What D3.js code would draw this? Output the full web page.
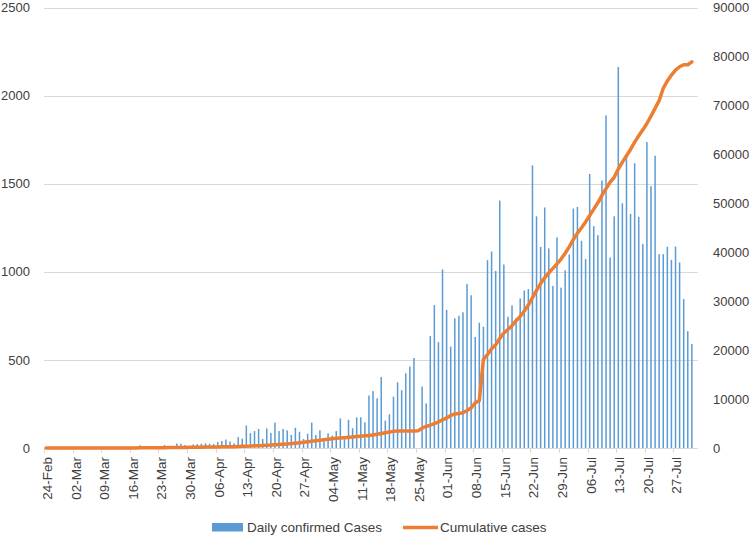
<!DOCTYPE html>
<html>
<head>
  <title>Daily and cumulative cases</title>
  <style>
  body {
    margin: 0;
    background: #fff;
    font-family: "Liberation Sans", Arial, sans-serif;
  }

  .grid line {
    stroke: #d9d9d9;
    stroke-width: 1;
    shape-rendering: crispedges;
  }

  .tick-label {
    font-size: 13px;
    fill: #404040;
  }

  .date-label {
    font-size: 13.5px;
    fill: #404040;
  }

  .bar {
    fill: #5b9bd5;
  }

  .cum {
    fill: none;
    stroke: #ed7d31;
    stroke-width: 3.5;
    stroke-linejoin: round;
    stroke-linecap: round;
  }

  .legend text {
    font-size: 13.5px;
    fill: #404040;
  }
  </style>
  <script src="https://cdn.jsdelivr.net/npm/d3@7"></script>
</head>
<body>
<div id="container"></div>
<script>
var width = 749,
    height = 537

// one category per day, 24-Feb to 01-Aug (2020)
var startDate = new Date(2020, 1, 24),
    days = d3.timeDay.range(startDate, new Date(2020, 7, 2))

var tickLabels = ["24-Feb", "02-Mar", "09-Mar", "16-Mar", "23-Mar", "30-Mar", "06-Apr",
  "13-Apr", "20-Apr", "27-Apr", "04-May", "11-May", "18-May", "25-May", "01-Jun",
  "08-Jun", "15-Jun", "22-Jun", "29-Jun", "06-Jul", "13-Jul", "20-Jul", "27-Jul"]

var leftTicks = [0, 500, 1000, 1500, 2000, 2500]
var rightTicks = [0, 10000, 20000, 30000, 40000, 50000, 60000, 70000, 80000, 90000]

var daily = [
  1, 0, 0, 0, 0, 0, 0, 0, 1, 0, 0, 0, 0, 2, 0, 0, 0, 0, 3, 1,
  2, 4, 3, 15, 2, 5, 3, 8, 4, 17, 6, 10, 25, 24, 17, 8, 20, 22, 24, 26,
  24, 22, 34, 40, 48, 37, 26, 62, 53, 128, 84, 96, 108, 51, 111, 85, 144, 96, 108, 100,
  74, 115, 92, 51, 81, 144, 74, 100, 38, 83, 70, 96, 168, 50, 160, 112, 174, 174, 146, 298,
  323, 282, 403, 155, 191, 291, 373, 328, 424, 462, 511, 0, 348, 253, 635, 811, 601, 1013, 784, 575,
  736, 750, 770, 930, 867, 630, 711, 688, 1066, 1115, 1005, 1404, 1041, 745, 809, 737, 849, 894, 902, 1604,
  1315, 1141, 1365, 1133, 919, 1195, 910, 1008, 1098, 1359, 1368, 1176, 1072, 1555, 1259, 1208, 1518, 1888, 1081, 1315,
  2162, 1389, 1658, 1329, 1616, 1312, 1157, 1737, 1486, 1659, 1100, 1100, 1142, 1068, 1143, 1053, 845, 663, 590
]

var cumulative = [
  1, 1, 1, 1, 1, 1, 1, 1, 2, 2, 2, 2, 2, 4, 4, 4, 4, 4, 7, 8,
  10, 14, 17, 32, 34, 39, 42, 50, 54, 71, 77, 87, 100, 110, 120, 130, 140, 155, 170, 185,
  200, 215, 225, 235, 245, 250, 270, 300, 340, 380, 400, 440, 480, 520, 560, 600, 660, 720, 780, 840,
  900, 990, 1080, 1180, 1290, 1400, 1500, 1600, 1700, 1800, 1900, 1970, 2040, 2110, 2180, 2250, 2330, 2410, 2490, 2570,
  2650, 2800, 2950, 3100, 3250, 3400, 3450, 3450, 3450, 3470, 3470, 3500, 4050, 4400, 4650, 5000, 5350, 5750, 6150, 6650,
  6950, 7050, 7200, 7650, 8200, 9200, 9700, 18100, 19100, 20300, 21100, 22400, 23500, 24200, 25000, 26000, 26900, 28000, 29200, 30700,
  32200, 33600, 34800, 35800, 36700, 37600, 38600, 39800, 41100, 42600, 43900, 45000, 46200, 47500, 48800, 50100, 51600, 53000, 54300, 55300,
  57000, 58400, 59700, 61000, 62500, 63800, 65000, 66300, 67800, 69400, 71000, 73500, 75000, 76200, 77200, 77900, 78300, 78300, 78900
]

var plot = { left: 44, right: 698, top: 7.5, bottom: 448 }

var x = d3.scaleLinear()
  .domain([0, days.length])
  .range([plot.left, plot.right])

var yL = d3.scaleLinear()
  .domain([0, 2500])
  .range([plot.bottom, plot.top])

var yR = d3.scaleLinear()
  .domain([0, 90000])
  .range([plot.bottom, plot.top])

var svg = d3.select("#container").append("svg")
    .attr("width", width)
    .attr("height", height)

// horizontal gridlines
svg.append("g")
    .attr("class", "grid")
  .selectAll("line")
    .data(leftTicks)
  .enter().append("line")
    .attr("x1", plot.left)
    .attr("x2", plot.right)
    .attr("y1", function(d) { return Math.round(yL(d)) + 0.5 })
    .attr("y2", function(d) { return Math.round(yL(d)) + 0.5 })

// left axis labels
svg.append("g")
  .selectAll("text")
    .data(leftTicks)
  .enter().append("text")
    .attr("class", "tick-label")
    .attr("x", 30)
    .attr("y", function(d) { return yL(d) })
    .attr("dy", "0.36em")
    .attr("text-anchor", "end")
    .text(function(d) { return d })

// right axis labels
svg.append("g")
  .selectAll("text")
    .data(rightTicks)
  .enter().append("text")
    .attr("class", "tick-label")
    .attr("x", 713)
    .attr("y", function(d) { return yR(d) })
    .attr("dy", "0.36em")
    .attr("text-anchor", "start")
    .text(function(d) { return d })

// weekly tick marks and rotated date labels
var weekIdx = tickLabels.map(function(_, i) { return i * 7 })

svg.append("g")
    .attr("class", "grid")
  .selectAll("line")
    .data(weekIdx)
  .enter().append("line")
    .attr("x1", function(d) { return Math.round(x(d)) + 0.5 })
    .attr("x2", function(d) { return Math.round(x(d)) + 0.5 })
    .attr("y1", plot.bottom)
    .attr("y2", plot.bottom + 5)

svg.append("g")
  .selectAll("text")
    .data(tickLabels)
  .enter().append("text")
    .attr("class", "date-label")
    .attr("transform", function(d, i) {
      return "translate(" + (x(i * 7 + 0.5) + 1) + "," + (plot.bottom + 9) + ") rotate(-90)"
    })
    .attr("dy", "0.36em")
    .attr("text-anchor", "end")
    .text(function(d) { return d })

// daily bars
var barW = 1.5
svg.append("g")
  .selectAll("rect")
    .data(daily)
  .enter().append("rect")
    .attr("class", "bar")
    .attr("x", function(d, i) { return x(i + 0.5) - barW / 2 })
    .attr("y", function(d) { return yL(d) })
    .attr("width", barW)
    .attr("height", function(d) { return plot.bottom - yL(d) })

// cumulative line on the right axis
var line = d3.line()
  .x(function(d, i) { return x(i + 0.5) })
  .y(function(d) { return yR(d) })

svg.append("path")
    .datum(cumulative)
    .attr("class", "cum")
    .attr("d", line)

// legend
var legend = svg.append("g")
    .attr("class", "legend")

legend.append("rect")
    .attr("x", 212)
    .attr("y", 523)
    .attr("width", 31)
    .attr("height", 8.5)
    .attr("fill", "#5b9bd5")

legend.append("text")
    .attr("x", 247)
    .attr("y", 532)
    .text("Daily confirmed Cases")

legend.append("line")
    .attr("x1", 403)
    .attr("x2", 438)
    .attr("y1", 527.5)
    .attr("y2", 527.5)
    .attr("stroke", "#ed7d31")
    .attr("stroke-width", 3.5)

legend.append("text")
    .attr("x", 440)
    .attr("y", 532)
    .text("Cumulative cases")
</script>
</body>
</html>
